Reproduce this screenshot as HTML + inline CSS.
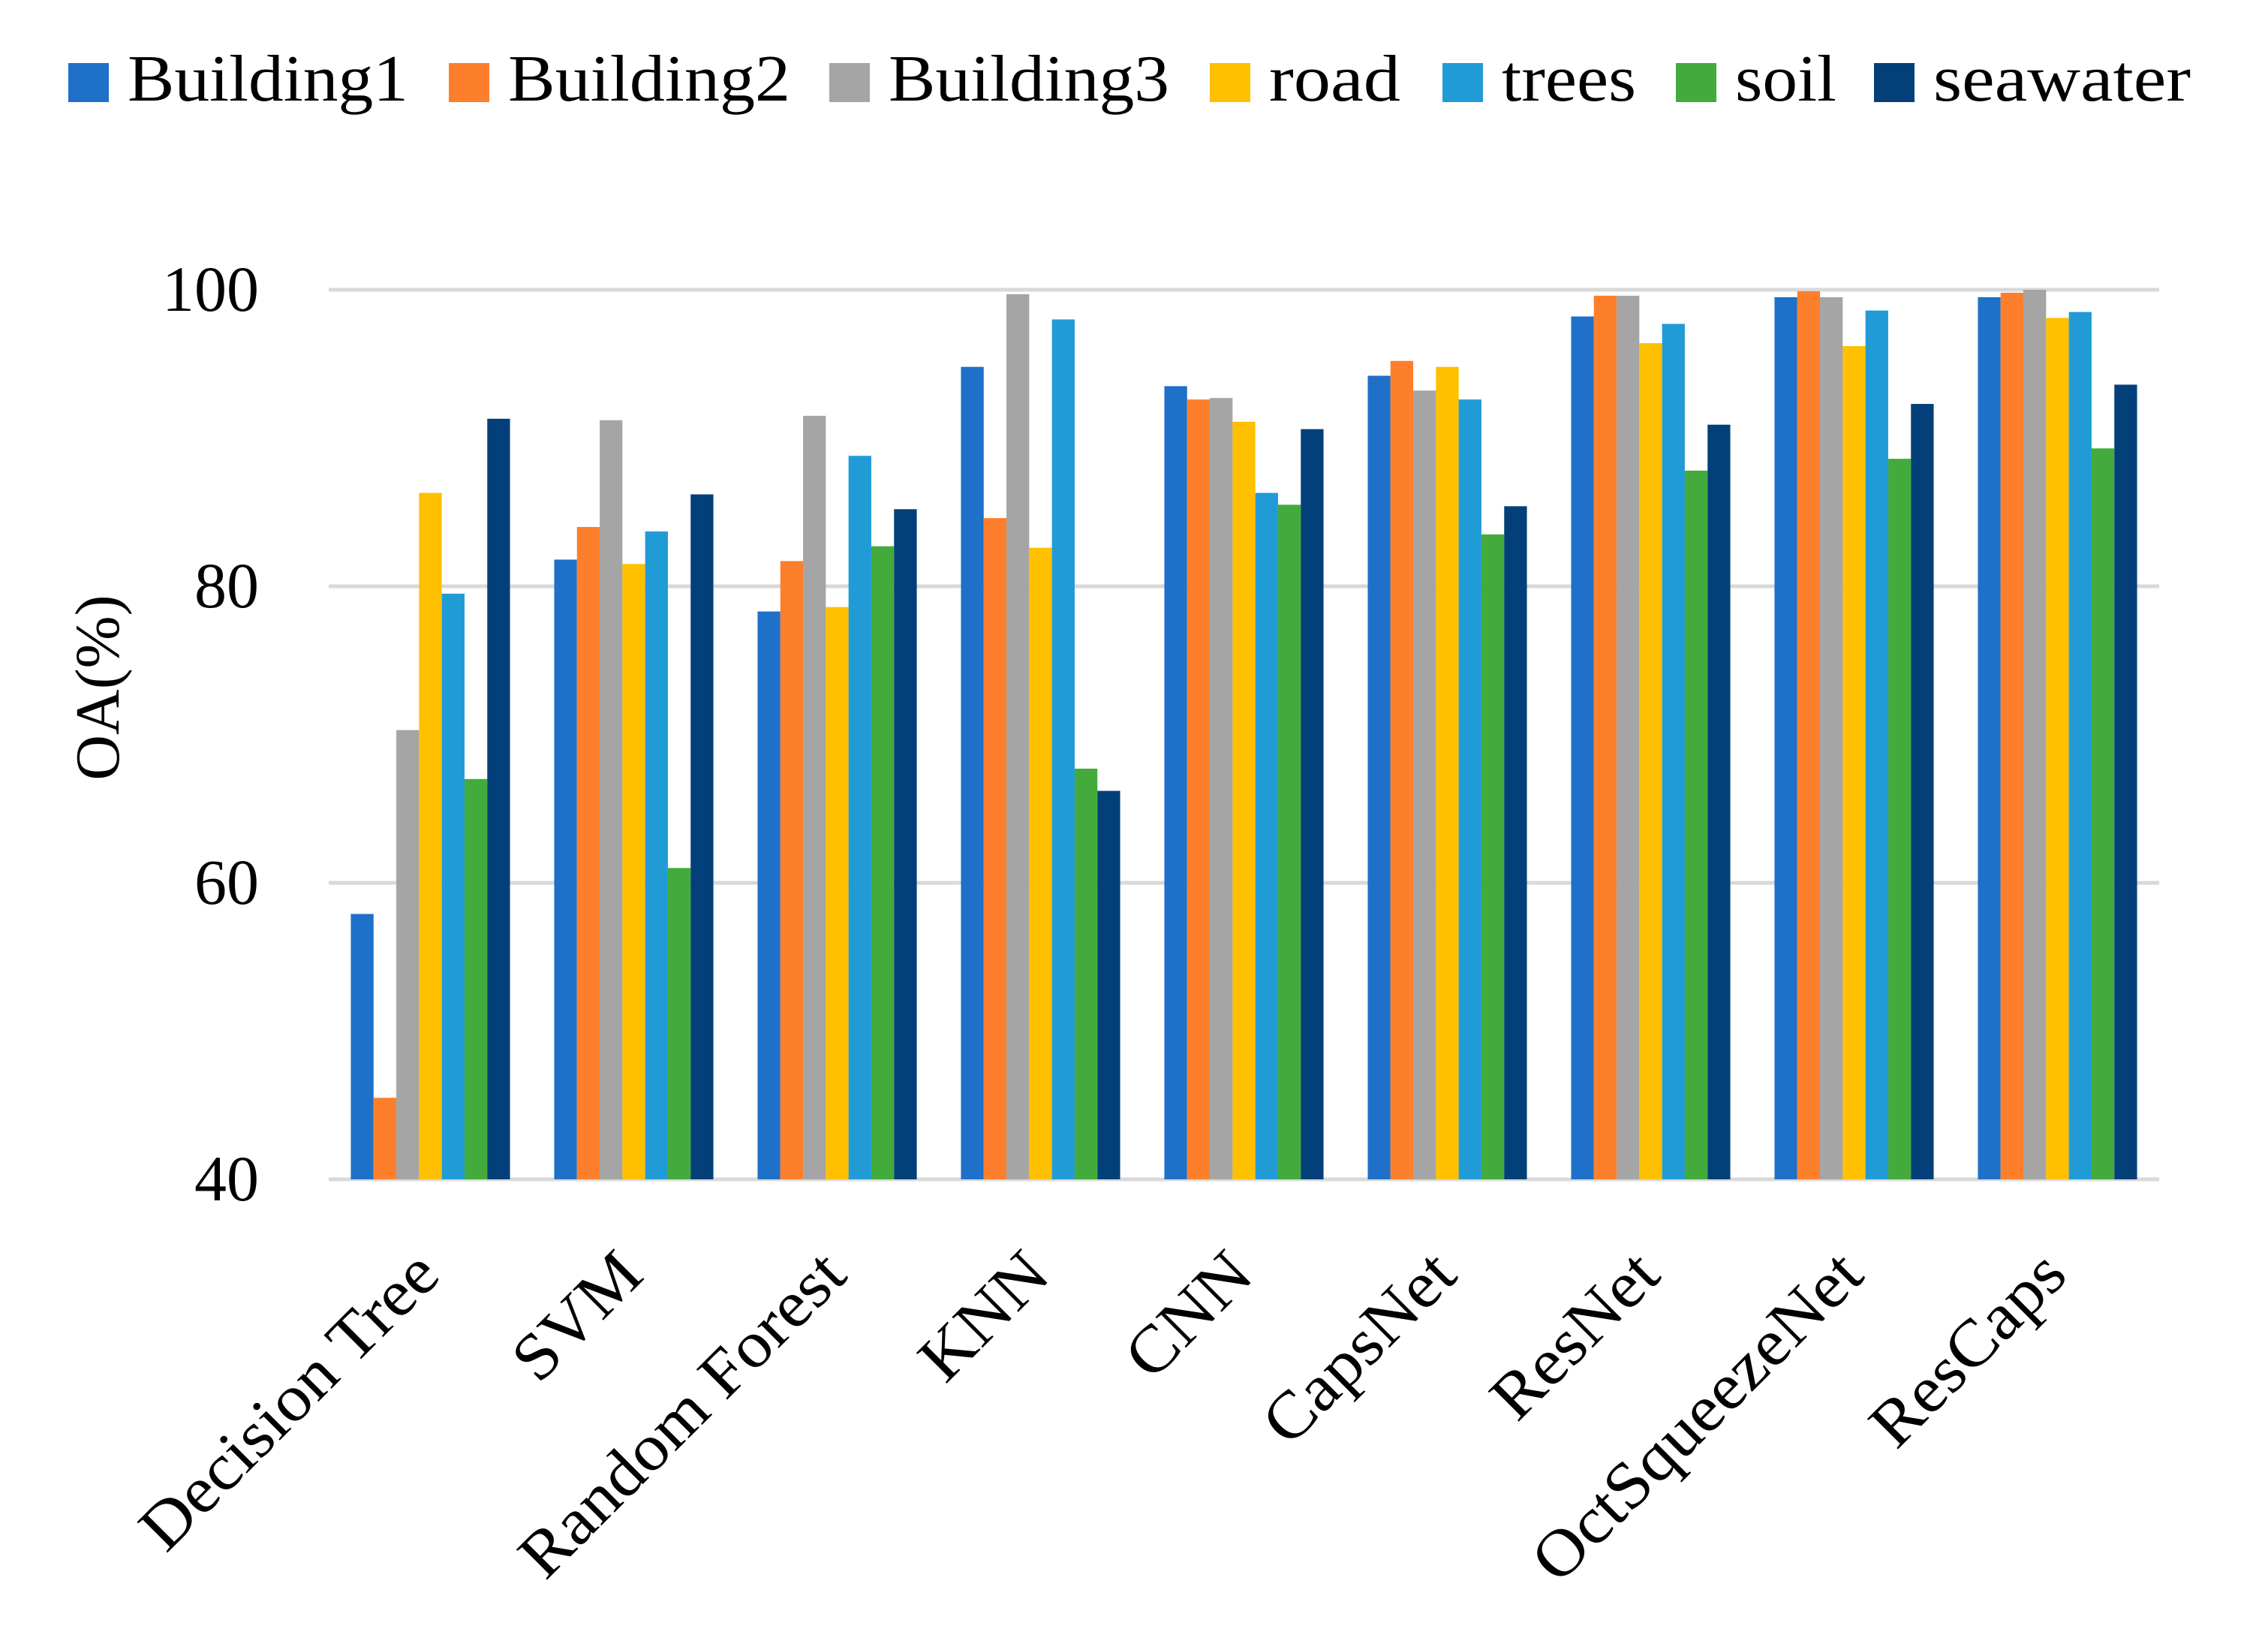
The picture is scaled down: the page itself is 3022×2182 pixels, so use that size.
<!DOCTYPE html>
<html><head><meta charset="utf-8"><style>
html,body{margin:0;padding:0;background:#fff;}
svg{display:block;font-family:"Liberation Serif",serif;}
</style></head><body>
<svg id="chart" width="3022" height="2182" viewBox="0 0 3022 2182" xmlns="http://www.w3.org/2000/svg">
<g id="legend"></g>
<g id="grid"></g>
<g id="bars"></g>
<g id="yticks"></g>
<g id="xticks"></g>
<text x="0" y="0" transform="translate(158,916) rotate(-90)" text-anchor="middle" font-size="84" fill="#000">OA(%)</text>
</svg>
<script>
const categories = ["Decision Tree","SVM","Random Forest","KNN","CNN","CapsNet","ResNet","OctSqueezeNet","ResCaps"];
const seriesNames = ["Building1","Building2","Building3","road","trees","soil","seawater"];
const seriesColors = ["#1f70c8","#fd7f2b","#a5a5a5","#ffc000","#219bd6","#43ab3c","#034079"];
const building1 = [57.9,81.8,78.3,94.8,93.5,94.2,98.2,99.5,99.5];
const building2 = [45.5,84.0,81.7,84.6,92.6,95.2,99.6,99.9,99.8];
const building3 = [70.3,91.2,91.5,99.7,92.7,93.2,99.6,99.5,100.0];
const road = [86.3,81.5,78.6,82.6,91.1,94.8,96.4,96.2,98.1];
const trees = [79.5,83.7,88.8,98.0,86.3,92.6,97.7,98.6,98.5];
const soil = [67.0,61.0,82.7,67.7,85.5,83.5,87.8,88.6,89.3];
const seawater = [91.3,86.2,85.2,66.2,90.6,85.4,90.9,92.3,93.6];
const yTicks = [40,60,80,100];

const series = [building1,building2,building3,road,trees,soil,seawater];
const NS="http://www.w3.org/2000/svg";
const plotL=438, plotR=2877, yTop=386, yBot=1571, yMin=40, yMax=100;
const groupW=(plotR-plotL)/categories.length, barW=30.3;
function yScale(v){return yBot-(v-yMin)/(yMax-yMin)*(yBot-yTop);}
function xGroup(i){return plotL+groupW*i+groupW/2;}
function mk(tag,attrs,parent){const e=document.createElementNS(NS,tag);for(const k in attrs)e.setAttribute(k,attrs[k]);parent.appendChild(e);return e;}

const grid=document.getElementById('grid'), yt=document.getElementById('yticks');
yTicks.forEach(t=>{
  const y=yScale(t);
  const l=mk('line',{x1:plotL,x2:plotR,y1:y,y2:y,stroke:'#d9d9d9','stroke-width':5},grid);
  
  
  const tx=mk('text',{x:345,y:y+28,'text-anchor':'end','font-size':86,fill:'#000'},yt);
  tx.textContent=t;
  
  
});

const bars=document.getElementById('bars');
categories.forEach((c,i)=>{
  const cx=xGroup(i), start=cx-barW*series.length/2;
  series.forEach((s,j)=>{
    const y=yScale(s[i]);
    const r=mk('rect',{x:start+j*barW,y:y,width:barW,height:yBot-y,fill:seriesColors[j]},bars);
    
    
  });
});

const xt=document.getElementById('xticks');
categories.forEach((c,i)=>{
  const ax=xGroup(i)+16, ay=1702;
  const t=mk('text',{x:0,y:0,transform:`translate(${ax},${ay}) rotate(-45)`,'text-anchor':'end','font-size':88,fill:'#000'},xt);
  t.textContent=c;
  
  
  const w=t.getComputedTextLength();
  t.setAttribute('textLength',(w*1.06).toFixed(1));
  t.setAttribute('lengthAdjust','spacingAndGlyphs');
});

const lg=document.getElementById('legend');
const legX=[91,598,1105,1612,1922,2233,2497];
const legTextW=[374,376,374,175,179,135,343];
seriesNames.forEach((n,j)=>{
  const g=mk('g',{},lg);
  
  
  mk('rect',{x:legX[j],y:84,width:54,height:52,fill:seriesColors[j]},g);
  const t=mk('text',{x:legX[j]+79,y:134,'font-size':88,fill:'#000',textLength:legTextW[j],lengthAdjust:'spacingAndGlyphs'},g);
  t.textContent=n;
});
</script>
</body></html>
